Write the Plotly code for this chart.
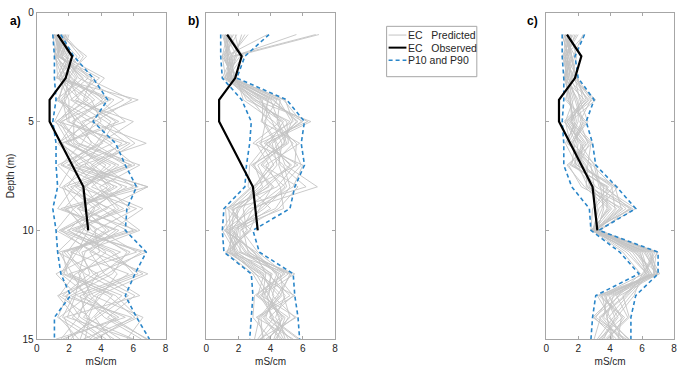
import plotly.graph_objects as go

W, H = 685, 379

depth = list(range(1, 16))
obs_depth = [1, 2, 3, 4, 5, 8, 10]
obs_ec = [1.3, 2.2, 1.8, 0.8, 0.8, 2.9, 3.2]

pred_a = [
    [1.2, 1.5, 2.8, 4.1, 2.2, 3.5, 5.8, 2.1, 3.9, 1.4, 4.6, 6.3, 2.7, 3.1, 5.2],
    [1.5, 1.1, 1.9, 1.3, 3.8, 5.6, 2.4, 6.9, 1.8, 3.2, 2.5, 1.6, 4.4, 6.1, 2.9],
    [1.1, 2.3, 1.4, 3.2, 1.2, 2.0, 4.3, 3.1, 5.4, 2.2, 6.8, 3.6, 1.9, 1.3, 3.4],
    [1.8, 1.3, 3.6, 2.4, 5.1, 1.5, 3.2, 4.8, 2.5, 6.2, 1.7, 2.9, 3.3, 4.7, 6.8],
    [1.3, 1.9, 1.2, 6.3, 2.8, 4.1, 1.3, 2.6, 6.2, 3.6, 3.9, 1.2, 2.5, 5.5, 1.2],
    [1.0, 1.2, 2.4, 1.8, 1.1, 3.2, 5.5, 1.7, 2.9, 4.3, 2.1, 5.7, 3.6, 2.2, 4.1],
    [1.6, 2.7, 1.5, 4.8, 3.4, 1.3, 2.7, 6.9, 4.2, 1.6, 5.2, 2.4, 1.4, 3.3, 3.0],
    [1.2, 1.4, 3.9, 2.1, 4.3, 6.1, 3.8, 2.3, 1.3, 5.1, 3.3, 4.2, 6.4, 1.7, 2.3],
    [2.0, 1.6, 2.1, 3.6, 1.6, 2.6, 6.4, 3.9, 5.1, 2.7, 1.3, 3.8, 2.9, 4.2, 6.5],
    [1.4, 3.1, 1.7, 1.4, 2.5, 4.7, 1.9, 5.6, 3.3, 2.0, 4.1, 6.6, 3.1, 2.6, 1.5],
    [1.1, 1.8, 2.6, 5.4, 3.0, 1.8, 4.6, 2.9, 1.7, 3.9, 6.2, 2.0, 5.3, 3.6, 4.6],
    [1.7, 1.2, 1.3, 2.7, 4.6, 3.7, 2.2, 1.4, 4.6, 6.4, 2.8, 3.3, 1.6, 5.9, 3.7],
    [1.3, 2.1, 3.2, 1.6, 1.9, 5.3, 3.4, 4.4, 2.3, 1.2, 3.6, 5.0, 4.0, 2.9, 6.0],
    [1.5, 1.3, 1.8, 4.3, 2.3, 2.3, 5.1, 3.4, 6.6, 4.6, 2.3, 1.5, 3.2, 1.4, 2.6],
    [1.2, 2.5, 1.6, 2.2, 6.0, 3.9, 1.6, 5.0, 2.6, 3.4, 5.6, 4.7, 2.1, 4.9, 3.3],
    [1.9, 1.5, 2.9, 1.2, 3.3, 6.8, 2.8, 1.9, 3.6, 2.9, 1.9, 3.0, 5.7, 3.8, 1.8],
    [1.0, 1.7, 4.2, 3.0, 1.4, 2.2, 4.0, 6.0, 1.5, 4.9, 3.0, 2.6, 3.5, 6.6, 5.6],
    [1.6, 1.2, 2.2, 3.9, 5.5, 1.6, 2.5, 3.7, 4.9, 2.4, 6.5, 4.4, 1.3, 2.4, 4.3],
    [1.4, 2.0, 1.4, 2.0, 2.0, 4.4, 6.1, 2.8, 3.0, 5.6, 1.6, 1.9, 4.7, 3.5, 2.1],
    [1.1, 1.4, 3.1, 5.9, 3.6, 2.8, 1.5, 4.2, 5.8, 1.9, 4.8, 6.0, 2.3, 1.6, 3.8],
    [1.7, 2.9, 2.0, 2.6, 1.3, 5.8, 3.6, 1.6, 2.2, 3.7, 2.6, 3.5, 6.1, 4.4, 6.9],
    [1.3, 1.1, 1.6, 3.4, 4.0, 1.9, 4.9, 3.0, 4.0, 6.0, 1.4, 2.2, 3.0, 5.1, 1.6],
    [1.2, 1.6, 2.5, 1.5, 2.7, 3.4, 2.0, 6.3, 1.9, 3.0, 5.8, 4.0, 1.8, 2.7, 4.8],
    [1.5, 2.2, 1.3, 4.6, 1.5, 2.5, 5.9, 2.4, 4.4, 1.5, 3.4, 6.9, 3.8, 3.2, 2.7],
    [1.8, 1.3, 3.4, 2.9, 4.9, 4.0, 3.0, 4.6, 2.8, 4.5, 2.2, 1.7, 4.9, 6.3, 3.5],
    [1.1, 1.9, 2.0, 1.7, 2.4, 1.4, 3.5, 5.3, 3.5, 2.6, 4.3, 2.7, 2.4, 1.9, 5.9],
]
p10_a = [1.0, 1.1, 1.1, 1.2, 1.0, 1.2, 1.2, 1.3, 1.0, 1.2, 1.3, 1.5, 2.1, 1.1, 1.1]
p90_a = [1.5, 2.3, 3.5, 4.4, 3.5, 4.9, 5.5, 6.2, 5.6, 5.5, 6.8, 6.1, 5.5, 6.2, 7.0]

pred_b = [
    [1.2, 1.5, 1.3, 3.1, 4.8, 3.9, 5.2, 3.6, 2.1, 1.4, 1.8, 4.1, 3.6, 4.8, 3.9],
    [1.5, 1.1, 1.6, 4.2, 5.6, 4.5, 3.4, 4.9, 3.4, 1.8, 1.3, 3.4, 4.7, 3.5, 4.6],
    [2.2, 1.8, 1.2, 2.8, 3.9, 5.4, 4.1, 3.1, 1.6, 2.3, 2.6, 5.1, 3.3, 4.2, 3.2],
    [1.1, 1.3, 1.5, 3.6, 6.3, 3.3, 4.8, 5.2, 4.3, 1.2, 1.9, 3.8, 5.2, 3.1, 5.4],
    [6.8, 1.6, 1.4, 4.6, 4.4, 4.9, 2.9, 4.2, 2.5, 1.6, 2.9, 4.5, 4.1, 5.5, 3.7],
    [1.4, 1.2, 1.8, 2.5, 5.2, 3.6, 5.7, 2.8, 1.3, 2.6, 1.5, 3.1, 3.9, 4.5, 4.9],
    [1.8, 2.1, 1.1, 3.9, 3.4, 5.8, 3.7, 4.6, 4.8, 1.4, 2.2, 5.3, 4.4, 3.3, 3.0],
    [1.0, 1.4, 1.6, 4.8, 5.9, 4.1, 4.4, 3.3, 1.9, 2.0, 1.7, 3.6, 3.2, 5.1, 4.3],
    [5.6, 1.7, 1.3, 3.3, 4.6, 2.9, 6.0, 5.4, 3.0, 1.1, 3.1, 4.3, 5.4, 3.9, 5.7],
    [1.3, 1.0, 1.7, 2.9, 5.0, 5.1, 3.2, 3.9, 1.5, 2.8, 1.2, 2.9, 3.7, 4.6, 3.4],
    [2.6, 1.5, 1.2, 4.4, 3.6, 4.4, 4.9, 6.9, 2.7, 1.5, 2.4, 4.8, 3.0, 2.9, 4.0],
    [1.2, 1.9, 1.4, 3.7, 6.0, 3.8, 2.7, 2.6, 4.0, 1.9, 1.6, 3.9, 4.9, 4.3, 5.1],
    [1.6, 1.3, 1.9, 2.3, 4.2, 5.6, 5.5, 4.4, 1.2, 1.3, 2.0, 5.5, 3.4, 5.6, 3.3],
    [3.8, 1.2, 1.5, 4.9, 5.4, 3.1, 3.9, 3.0, 2.3, 2.5, 1.4, 3.3, 4.5, 3.6, 4.7],
    [1.1, 1.6, 1.0, 3.4, 4.1, 4.7, 4.5, 5.0, 3.6, 1.7, 2.7, 4.4, 3.8, 4.0, 5.8],
    [1.9, 1.1, 1.6, 4.1, 5.7, 4.0, 3.0, 3.5, 1.8, 1.0, 1.8, 3.0, 5.5, 3.2, 3.6],
    [1.4, 2.3, 1.3, 2.7, 4.7, 5.3, 5.9, 4.7, 2.9, 2.2, 3.2, 4.9, 3.1, 4.9, 4.4],
    [7.0, 1.8, 1.5, 3.8, 3.7, 3.4, 4.2, 2.9, 1.4, 1.5, 1.5, 3.5, 4.2, 3.7, 5.3],
    [1.2, 1.4, 1.8, 4.5, 5.3, 4.8, 3.5, 5.7, 4.5, 2.1, 2.1, 4.6, 4.8, 5.2, 3.8],
    [1.7, 1.0, 1.2, 3.0, 6.5, 3.7, 5.3, 3.8, 2.0, 1.2, 3.0, 3.7, 3.5, 4.1, 4.8],
    [2.4, 1.6, 1.7, 4.0, 4.5, 5.0, 2.8, 4.1, 3.3, 2.7, 1.3, 5.2, 4.6, 3.4, 3.5],
    [1.3, 1.3, 1.4, 3.5, 3.5, 4.3, 4.6, 6.2, 1.7, 1.6, 2.5, 4.0, 3.9, 4.7, 4.2],
]
p10_b = [0.9, 0.9, 1.0, 2.2, 2.8, 2.7, 2.5, 2.4, 1.1, 1.0, 1.1, 2.8, 2.9, 2.8, 2.7]
p90_b = [3.9, 2.4, 1.9, 5.0, 6.1, 5.9, 6.1, 5.5, 5.2, 2.9, 3.3, 5.4, 5.5, 5.7, 5.8]

pred_c = [
    [1.2, 1.3, 1.5, 2.2, 1.6, 2.0, 1.8, 2.9, 4.1, 3.0, 5.8, 6.6, 4.2, 3.8, 4.1],
    [1.5, 1.1, 1.3, 1.7, 1.2, 1.5, 2.4, 3.6, 3.5, 2.9, 6.3, 6.9, 3.6, 4.5, 3.5],
    [1.1, 1.6, 1.8, 2.8, 2.1, 2.6, 1.4, 2.2, 4.8, 3.1, 5.2, 6.3, 4.9, 3.3, 4.7],
    [2.0, 1.2, 1.2, 1.4, 1.8, 1.3, 2.9, 4.2, 3.0, 3.2, 6.7, 6.1, 3.4, 4.9, 3.9],
    [1.3, 1.5, 1.9, 2.5, 1.1, 2.3, 2.1, 3.1, 5.4, 2.8, 5.5, 7.0, 4.6, 3.0, 4.4],
    [1.7, 1.0, 1.4, 1.9, 2.3, 1.8, 1.6, 3.8, 3.8, 3.0, 6.0, 6.4, 5.3, 4.2, 3.2],
    [1.0, 1.4, 1.6, 3.1, 1.5, 2.8, 2.6, 2.5, 4.4, 3.3, 6.9, 6.7, 3.8, 3.6, 5.2],
    [2.3, 1.7, 1.1, 1.6, 1.9, 1.2, 1.9, 4.5, 3.3, 2.9, 4.8, 5.9, 4.4, 5.1, 3.7],
    [1.4, 1.2, 2.0, 2.3, 1.3, 2.1, 3.0, 3.3, 5.0, 3.1, 6.5, 6.8, 3.2, 4.0, 4.8],
    [1.1, 1.8, 1.3, 1.3, 2.5, 1.6, 2.3, 2.8, 4.6, 3.0, 5.9, 6.2, 5.0, 3.4, 3.0],
    [1.9, 1.1, 1.7, 2.6, 1.4, 2.4, 1.5, 3.9, 2.9, 2.8, 6.4, 7.1, 3.9, 4.7, 4.5],
    [1.2, 1.5, 1.2, 2.0, 2.0, 1.4, 2.7, 3.5, 5.6, 3.2, 5.6, 6.5, 4.1, 3.1, 5.0],
    [1.6, 1.3, 1.5, 1.5, 1.7, 2.9, 1.3, 2.4, 3.9, 2.9, 7.0, 6.0, 5.5, 4.4, 3.4],
    [1.3, 1.6, 1.9, 2.9, 1.2, 1.9, 2.2, 4.1, 4.3, 3.1, 6.2, 6.8, 3.5, 3.8, 4.2],
    [2.4, 1.2, 1.4, 1.8, 2.2, 1.7, 2.8, 3.0, 3.2, 3.0, 5.0, 6.3, 4.8, 5.2, 3.8],
    [1.0, 1.4, 1.1, 2.4, 1.5, 2.5, 1.7, 3.7, 5.2, 3.4, 6.6, 6.9, 4.3, 2.9, 4.9],
    [1.5, 1.9, 1.6, 1.2, 2.4, 1.5, 2.5, 2.7, 4.0, 2.8, 5.7, 6.6, 3.7, 4.3, 3.6],
    [1.8, 1.3, 1.3, 2.7, 1.3, 2.2, 1.9, 4.3, 4.7, 3.1, 6.8, 6.2, 4.5, 3.5, 4.6],
    [1.2, 1.1, 1.8, 2.1, 2.6, 1.6, 3.1, 3.4, 3.6, 3.2, 6.1, 7.0, 3.3, 4.8, 3.3],
    [1.4, 1.6, 1.2, 1.5, 1.6, 2.7, 2.0, 2.6, 5.3, 2.9, 5.4, 6.4, 5.1, 3.9, 5.1],
]
p10_c = [1.0, 1.0, 1.1, 1.1, 1.0, 1.1, 1.1, 1.6, 2.7, 2.8, 4.6, 5.8, 3.1, 2.9, 2.8]
p90_c = [2.4, 1.8, 2.0, 3.0, 2.5, 2.9, 3.1, 4.4, 5.6, 3.3, 7.0, 7.0, 5.6, 5.3, 5.3]

panel_labels = ["a)", "b)", "c)"]
legend_labels = ["EC\u00a0\u00a0\u00a0Predicted", "EC\u00a0\u00a0\u00a0Observed", "P10 and P90"]
x_ticks = [0, 2, 4, 6, 8]
y_ticks = [0, 5, 10, 15]

GRAY = "#c4c4c4"
BLUE = "#2a86c9"
FRAME = "#a6a6a6"
TXT = "#262626"
FONT = "Liberation Sans, Arial, sans-serif"

panels = [(pred_a, p10_a, p90_a), (pred_b, p10_b, p90_b), (pred_c, p10_c, p90_c)]
xdom_px = [(34, 164), (205, 335), (548, 677)]
top_px, bot_px = 7, 344

fig = go.Figure()

for i, (pred, p10, p90) in enumerate(panels):
    ax = "" if i == 0 else str(i + 1)
    xs, ys = [], []
    for real in pred:
        xs += real + [None]
        ys += depth + [None]
    fig.add_trace(go.Scatter(x=xs, y=ys, mode="lines", xaxis="x" + ax, yaxis="y" + ax,
                             line=dict(color=GRAY, width=0.9),
                             name=legend_labels[0], showlegend=False, hoverinfo="skip"))
    for pv in [p10, p90]:
        fig.add_trace(go.Scatter(x=pv, y=depth, mode="lines", xaxis="x" + ax, yaxis="y" + ax,
                                 line=dict(color=BLUE, width=1.6, dash="4px,3px"),
                                 name=legend_labels[2], showlegend=False))
    fig.add_trace(go.Scatter(x=obs_ec, y=obs_depth, mode="lines", xaxis="x" + ax, yaxis="y" + ax,
                             line=dict(color="black", width=2.2),
                             name=legend_labels[1], showlegend=False))

ydom = [(H - bot_px) / H, (H - top_px) / H]
layout = dict(
    width=W, height=H,
    margin=dict(l=0, r=0, t=0, b=0),
    paper_bgcolor="white", plot_bgcolor="white",
    font=dict(family=FONT, size=10, color=TXT),
    showlegend=False,
)
for i, (x0, x1) in enumerate(xdom_px):
    ax = "" if i == 0 else str(i + 1)
    layout["xaxis" + ax] = dict(
        domain=[x0 / W, x1 / W], range=[0, 8], tickvals=x_ticks,
        ticks="inside", ticklen=3, tickcolor=FRAME, mirror="ticks",
        showline=True, linecolor=FRAME, linewidth=1, showgrid=False, zeroline=False,
        anchor="y" + ax, tickfont=dict(size=10, color=TXT),
        title=dict(text="mS/cm", font=dict(size=10, color=TXT), standoff=4),
    )
    layout["yaxis" + ax] = dict(
        domain=ydom, range=[15, 0], tickvals=y_ticks,
        ticks="inside", ticklen=3, tickcolor=FRAME, mirror="ticks",
        showline=True, linecolor=FRAME, linewidth=1, showgrid=False, zeroline=False,
        anchor="x" + ax, showticklabels=(i == 0), tickfont=dict(size=10, color=TXT),
        title=dict(text="Depth (m)" if i == 0 else "", font=dict(size=10, color=TXT), standoff=6),
    )
fig.update_layout(**layout)

label_px = [(13, 16), (192, 16), (534, 16)]
for lab, (px, py) in zip(panel_labels, label_px):
    fig.add_annotation(text="<b>" + lab + "</b>", xref="paper", yref="paper",
                       x=px / W, y=1 - py / H, xanchor="center", yanchor="middle",
                       showarrow=False, font=dict(size=12, color="black", family=FONT))

# legend box (drawn in paper coordinates)
def px_x(v):
    return v / W

def px_y(v):
    return 1 - v / H

fig.add_shape(type="rect", xref="paper", yref="paper",
              x0=px_x(387), x1=px_x(478), y0=px_y(21), y1=px_y(73),
              line=dict(color=FRAME, width=1), fillcolor="white", layer="above")
leg_styles = [dict(color=GRAY, width=1), dict(color="black", width=2),
              dict(color=BLUE, width=1.6, dash="4px,3px")]
leg_rows = [30, 43, 56]
for lab, st, ry in zip(legend_labels, leg_styles, leg_rows):
    fig.add_shape(type="line", xref="paper", yref="paper",
                  x0=px_x(389), x1=px_x(407), y0=px_y(ry), y1=px_y(ry),
                  line=st, layer="above")
    fig.add_annotation(text=lab, xref="paper", yref="paper",
                       x=px_x(407), y=px_y(ry), xanchor="left", yanchor="middle",
                       showarrow=False, font=dict(size=10.5, color=TXT, family=FONT))

fig.write_html("out.html")
